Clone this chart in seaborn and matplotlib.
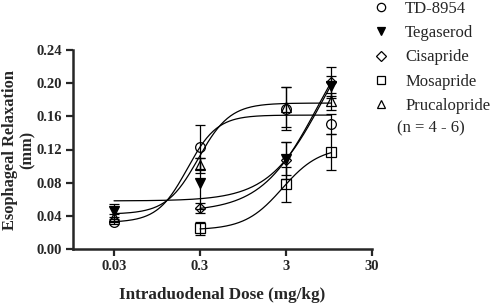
import matplotlib
matplotlib.use("Agg")
import matplotlib.pyplot as plt
from matplotlib.lines import Line2D
from matplotlib.ticker import FixedLocator, NullLocator
import numpy as np
import pandas as pd
import seaborn as sns

# drugs and their markers
drugs = ["TD-8954", "Tegaserod", "Cisapride", "Mosapride", "Prucalopride"]
markers = ["o", "v", "D", "s", "^"]
filled = [False, True, False, False, False]

# mean +/- SEM (dose in mg/kg)
td_dose = [0.03, 0.3, 3, 10]
td_mean = [0.033, 0.123, 0.169, 0.151]
td_sem = [0.003, 0.026, 0.026, 0.012]

teg_dose = [0.03, 0.3, 3, 10]
teg_mean = [0.046, 0.079, 0.109, 0.197]
teg_sem = [0.008, 0.031, 0.020, 0.012]

cis_dose = [0.3, 3, 10]
cis_mean = [0.049, 0.107, 0.201]
cis_sem = [0.006, 0.022, 0.019]

mos_dose = [0.3, 3, 10]
mos_mean = [0.025, 0.078, 0.117]
mos_sem = [0.008, 0.021, 0.022]

pru_dose = [0.03, 0.3, 3, 10]
pru_mean = [0.038, 0.101, 0.171, 0.178]
pru_sem = [0.004, 0.009, 0.024, 0.010]

# sigmoid fit parameters: bottom, top, EC50, Hill slope, dose range
fit_bottom = [0.032, 0.058, 0.045, 0.023, 0.042]
fit_top = [0.1615, 0.30, 0.30, 0.123, 0.176]
fit_ec50 = [0.213, 8.0, 7.08, 2.71, 0.286]
fit_hill = [2.5, 1.37, 1.31, 2.0, 2.35]
fit_start = [0.03, 0.03, 0.3, 0.3, 0.03]
fit_end = [10, 10, 10, 10, 10]

doses = [td_dose, teg_dose, cis_dose, mos_dose, pru_dose]
means = [td_mean, teg_mean, cis_mean, mos_mean, pru_mean]
sems = [td_sem, teg_sem, cis_sem, mos_sem, pru_sem]


def main():
    sns.set_style("ticks")
    plt.rcParams["font.family"] = ["Liberation Serif", "DejaVu Serif"]

    fig = plt.figure(figsize=(4.9, 3.04), dpi=100)
    ax = fig.add_axes([73 / 490, 1 - 249 / 304, (372 - 73) / 490, (249 - 50) / 304])

    # fitted curves
    rows = []
    for i, d in enumerate(drugs):
        x = np.logspace(np.log10(fit_start[i]), np.log10(fit_end[i]), 200)
        y = fit_bottom[i] + (fit_top[i] - fit_bottom[i]) / (1 + (fit_ec50[i] / x) ** fit_hill[i])
        rows.append(pd.DataFrame({"drug": d, "dose": x, "resp": y}))
    curves = pd.concat(rows)
    sns.lineplot(data=curves, x="dose", y="resp", units="drug", estimator=None,
                 color="black", lw=0.9, ax=ax, legend=False)

    # data points with error bars
    for i, d in enumerate(drugs):
        ax.errorbar(doses[i], means[i], yerr=sems[i], fmt=markers[i], ms=7 if markers[i] != "D" else 5.5,
                    mfc="black" if filled[i] else "none", mec="black", mew=0.9,
                    ecolor="black", elinewidth=0.9, capsize=3.5, capthick=0.9, zorder=3)

    ax.set_xscale("log")
    ax.set_xlim(0.01, 30)
    ax.set_ylim(0, 0.24)
    ax.xaxis.set_major_locator(FixedLocator([0.03, 0.3, 3, 30]))
    ax.xaxis.set_minor_locator(NullLocator())
    ax.set_xticklabels(["0.03", "0.3", "3", "30"])
    ax.set_yticks(np.arange(0, 0.241, 0.04))
    ax.set_yticklabels([f"{v:.2f}" for v in np.arange(0, 0.241, 0.04)])
    ax.tick_params(direction="out", length=5, width=1.6, labelsize=10.5, pad=3)
    for lab in ax.get_xticklabels() + ax.get_yticklabels():
        lab.set_fontweight("bold")
    sns.despine(ax=ax)
    for s in ["left", "bottom"]:
        ax.spines[s].set_linewidth(1.8)

    ax.set_xlabel("Intraduodenal Dose (mg/kg)", fontsize=12.3, fontweight="bold", labelpad=10)
    ax.set_ylabel("Esophageal Relaxation\n(mm)", fontsize=11.8, fontweight="bold",
                  linespacing=1.2)
    ax.yaxis.set_label_coords(-37 / 299, 0.5)

    handles = [Line2D([], [], ls="none", marker=m, ms=6 if m != "D" else 5,
                      mfc="black" if f else "none", mec="black", mew=0.9)
               for m, f in zip(markers, filled)]
    fig.legend(handles, drugs, loc="upper left", bbox_to_anchor=(364.7 / 490, 1.025),
               frameon=False, fontsize=12, handlelength=1.0, handletextpad=0.93,
               labelspacing=0.5, borderpad=0)
    fig.text(397 / 490, 1 - 128 / 304, "(n = 4 - 6)", fontsize=12, va="center")

    fig.savefig("out.png", dpi=100)


if __name__ == "__main__":
    main()
